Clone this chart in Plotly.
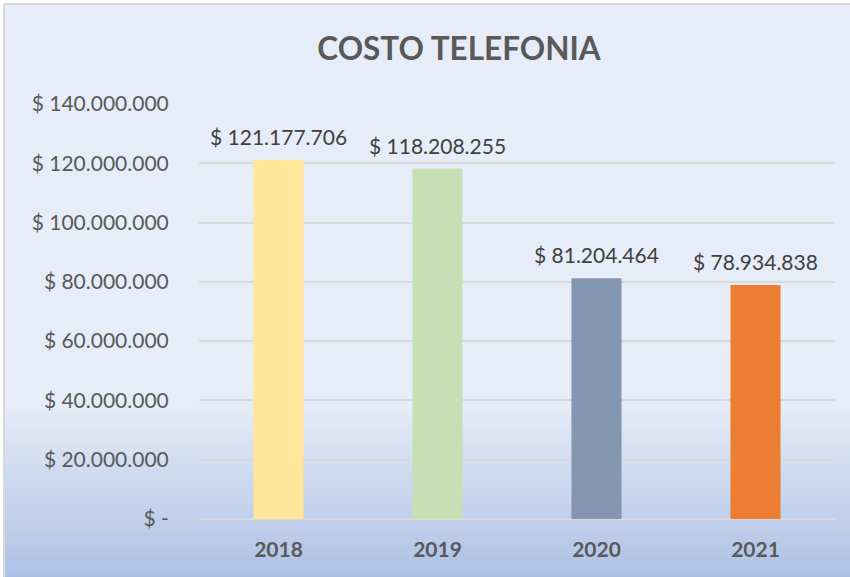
import plotly.graph_objects as go

years = ["2018", "2019", "2020", "2021"]
costs = [121177706, 118208255, 81204464, 78934838]
bar_colors = ["#FFE699", "#C5E0B4", "#8497B0", "#ED7D31"]
tick_values = [0, 20000000, 40000000, 60000000, 80000000, 100000000, 120000000, 140000000]
tick_labels = ["$ -", "$ 20.000.000", "$ 40.000.000", "$ 60.000.000", "$ 80.000.000",
               "$ 100.000.000", "$ 120.000.000", "$ 140.000.000"]

W, H = 850, 577
ML, MR, MT, MB = 199, 15, 104, 58
PW, PH = W - ML - MR, H - MT - MB


def px_x(px):
    return (px - ML) / PW


def px_y(py):
    return (H - MB - py) / PH


def fmt(v):
    return "$ " + f"{v:,}".replace(",", ".")


fig = go.Figure()
fig.add_trace(go.Bar(
    x=years, y=costs, marker=dict(color=bar_colors, line=dict(width=0)),
    hoverinfo="x+y", showlegend=False,
))

shapes = []
shapes.append(dict(type="rect", xref="paper", yref="paper", layer="below",
                   x0=px_x(4), x1=px_x(852), y0=px_y(579), y1=px_y(4),
                   fillcolor="#E7EDF8", line=dict(width=0)))
c0 = (0xE7, 0xED, 0xF8)
c1 = (0xAC, 0xC0, 0xE4)
start, end = 400, 579
n = 60
for i in range(n):
    t = (i + 0.5) / n
    col = tuple(round(c0[k] + (c1[k] - c0[k]) * t) for k in range(3))
    y0p = start + (end - start) * i / n
    y1p = start + (end - start) * (i + 1) / n
    shapes.append(dict(type="rect", xref="paper", yref="paper", layer="below",
                       x0=px_x(4), x1=px_x(852), y0=px_y(y1p + 0.5), y1=px_y(y0p),
                       fillcolor="rgb(%d,%d,%d)" % col, line=dict(width=0)))
shapes.append(dict(type="rect", xref="paper", yref="paper", layer="below",
                   x0=px_x(4), x1=px_x(853), y0=px_y(580), y1=px_y(4),
                   fillcolor="rgba(0,0,0,0)", line=dict(color="#D9D9D9", width=2)))

annotations = []
for i, v in enumerate(costs):
    annotations.append(dict(x=i, y=v, xref="x", yref="y", text=fmt(v),
                            showarrow=False, yanchor="bottom", yshift=9,
                            font=dict(family="Lato", size=21, color="#404040")))

fig.update_layout(
    width=W, height=H,
    margin=dict(l=ML, r=MR, t=MT, b=MB, autoexpand=False),
    paper_bgcolor="white",
    plot_bgcolor="rgba(0,0,0,0)",
    shapes=shapes,
    annotations=annotations,
    bargap=0.685,
    title=dict(text="<b>COSTO TELEFONIA</b>", x=459 / W, xanchor="center",
               y=1 - 49 / H, yanchor="middle", yref="container",
               font=dict(family="Lato", size=31.5, color="#595959")),
    xaxis=dict(type="category", showgrid=False, showline=False, zeroline=False,
               range=[-0.5, len(years) - 0.5], tickangle=0,
               tickvals=years, ticktext=["<b>%s</b>" % y for y in years],
               ticks="outside", ticklen=12, tickcolor="rgba(0,0,0,0)",
               tickfont=dict(family="Lato", size=21, color="#595959"),
               fixedrange=True, automargin=False),
    yaxis=dict(range=[0, 140000000], tickvals=tick_values, ticktext=tick_labels,
               showgrid=True, gridcolor="#D9D9D9", gridwidth=1.5,
               zeroline=True, zerolinecolor="#D9D9D9", zerolinewidth=2,
               showline=False, ticks="outside", ticklen=25, tickcolor="rgba(0,0,0,0)",
               tickfont=dict(family="Lato", size=21, color="#595959"),
               fixedrange=True, automargin=False),
    font=dict(family="Lato"),
)

fig.write_html("out.html", config={"displayModeBar": False},
               post_script="document.body.style.margin='0';")
